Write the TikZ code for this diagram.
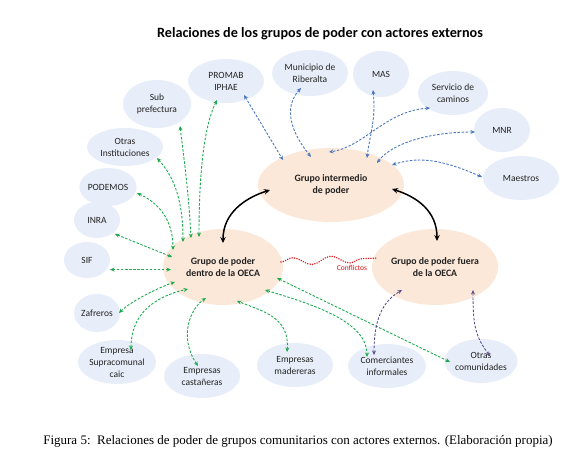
\documentclass[tikz,border=0pt]{standalone}
\usepackage{fontspec}
\setmainfont{Carlito}
\newfontfamily\capfont{Liberation Serif}
\usetikzlibrary{shapes.geometric,arrows.meta,decorations.pathmorphing,calc}
\definecolor{bfill}{HTML}{E8EEF9}
\definecolor{pfill}{HTML}{FCE8D8}
\definecolor{garr}{HTML}{1DAA4E}
\definecolor{barr}{HTML}{4A78C0}
\definecolor{parr}{HTML}{5E4E8C}
\definecolor{rdot}{HTML}{E01010}
\definecolor{txt}{HTML}{222222}
\begin{document}
\begin{tikzpicture}[x=1pt,y=-1pt,
  bub/.style={ellipse, fill=bfill, inner sep=0pt, align=center, text=txt,
    font=\fontsize{9.5}{12}\selectfont},
  grp/.style={ellipse, fill=pfill, inner sep=0pt, align=center, text=txt,
    font=\fontsize{9.8}{12.5}\selectfont\bfseries},
  dsh/.style={line width=0.9pt, dash pattern=on 2.5pt off 1.6pt,
    {Stealth[length=4.5pt,width=4pt]}-{Stealth[length=4.5pt,width=4pt]}},
  garrow/.style={dsh, draw=garr},
  barrow/.style={dsh, draw=barr},
  parrow/.style={dsh, draw=parr},
  karrow/.style={line width=1.5pt, draw=black,
    {Stealth[length=6pt,width=5.5pt]}-{Stealth[length=6pt,width=5.5pt]}},
  conflict/.style={draw=rdot, line width=1.6pt, line cap=round,
    dash pattern=on 0.01pt off 2.4pt, decorate,
    decoration={snake, amplitude=3.8pt, segment length=38pt}},
]
\useasboundingbox (0,0) rectangle (580,466);
\fill[white] (0,0) rectangle (580,466);

% title
\node[font=\fontsize{14.2}{16}\selectfont\bfseries, text=black] (title) at (320,34)
  {Relaciones de los grupos de poder con actores externos};

% external actors
\node[bub, minimum width=76pt, minimum height=44pt] (promab) at (226,81) {PROMAB\\IPHAE};
\node[bub, minimum width=76pt, minimum height=46pt] (muni) at (310,73) {Municipio de\\Riberalta};
\node[bub, minimum width=56pt, minimum height=46pt] (mas) at (381,74) {MAS};
\node[bub, minimum width=70pt, minimum height=44pt] (serv) at (453,93) {Servicio de\\caminos};
\node[bub, minimum width=56pt, minimum height=44pt] (mnr) at (502,130) {MNR};
\node[bub, minimum width=76pt, minimum height=44pt] (maes) at (521,178) {Maestros};
\node[bub, minimum width=68pt, minimum height=48pt] (sub) at (157,104) {Sub\\prefectura};
\node[bub, minimum width=76pt, minimum height=38pt] (otras) at (125,147) {Otras\\Instituciones};
\node[bub, minimum width=52pt, minimum height=38pt] (podemos) at (108,187) {PODEMOS};
\node[bub, minimum width=46pt, minimum height=36pt] (inra) at (97,220) {INRA};
\node[bub, minimum width=46pt, minimum height=36pt] (sif) at (87,260) {SIF};
\node[bub, minimum width=46pt, minimum height=38pt] (zaf) at (97,313) {Zafreros};
\node[bub, minimum width=76pt, minimum height=44pt] (supra) at (117,362) {Empresa\\Supracomunal\\caic};
\node[bub, minimum width=76pt, minimum height=44pt] (cast) at (202,376) {Empresas\\castañeras};
\node[bub, minimum width=76pt, minimum height=44pt] (mad) at (295,365) {Empresas\\madereras};
\node[bub, minimum width=78pt, minimum height=44pt] (com) at (387,366) {Comerciantes\\informales};
\node[bub, minimum width=72pt, minimum height=44pt] (otrc) at (481,361) {Otras\\comunidades};

% power groups
\node[grp, minimum width=120pt, minimum height=76pt] (dentro) at (223,267) {Grupo de poder\\dentro de la OECA};
\node[grp, minimum width=146pt, minimum height=74pt] (inter) at (331,185) {Grupo intermedio\\de poder};
\node[grp, minimum width=126pt, minimum height=76pt] (fuera) at (435,267) {Grupo de poder fuera\\de la OECA};

% green: dentro de la OECA
\draw[garrow] ($(promab)+(-9,19)$) .. controls +(-15,30) and +(0,-50) .. ($(dentro)+(-24,-30)$);
\draw[garrow] ($(sub)+(23,22)$) .. controls +(5,40) and +(-2,-40) .. ($(dentro)+(-32,-29)$);
\draw[garrow] ($(otras)+(32,11)$) .. controls +(18,20) and +(0,-40) .. ($(dentro)+(-40,-25)$);
\draw[garrow] ($(podemos)+(29,6)$) .. controls +(22,10) and +(0,-30) .. ($(dentro)+(-50,-17)$);
\draw[garrow] ($(inra)+(18,14)$) -- ($(dentro)+(-51,-10)$);
\draw[garrow] ($(sif)+(23,9.6)$) -- ($(dentro)+(-52,2.6)$);
\draw[garrow] ($(zaf)+(22,0)$) .. controls +(12,-12) and +(-15,5) .. ($(dentro)+(-48,15)$);
\draw[garrow] ($(supra)+(14,-12)$) .. controls +(0,-35) and +(-35,8) .. ($(dentro)+(-35,22)$);
\draw[garrow] ($(cast)+(-4,-10)$) .. controls +(-20,-30) and +(-15,10) .. ($(dentro)+(-17,31)$);
\draw[garrow] ($(mad)+(-8,-13)$) .. controls +(3,-35) and +(25,10) .. ($(dentro)+(14,34)$);
\draw[garrow] ($(dentro)+(42,23)$) .. controls +(50,15) and +(0,-35) .. ($(com)+(-20,-9)$);
\draw[garrow] ($(dentro)+(54,11)$) -- ($(otrc)+(-31,1)$);

% blue: grupo intermedio
\draw[barrow] ($(promab)+(18,14)$) -- ($(inter)+(-48,-25)$);
\draw[barrow] ($(muni)+(-9,15)$) .. controls +(-18,20) and +(-20,-25) .. ($(inter)+(-20,-28)$);
\draw[barrow] ($(mas)+(-8,16)$) .. controls +(3,30) and +(3,-25) .. ($(inter)+(36,-27)$);
\draw[barrow] ($(serv)+(-23,15)$) .. controls +(-45,3) and +(35,-5) .. ($(inter)+(-2,-33)$);
\draw[barrow] ($(mnr)+(-27,2)$) .. controls +(-45,0) and +(15,-20) .. ($(inter)+(46,-22)$);
\draw[barrow] ($(maes)+(-39,-1)$) .. controls +(-35,-15) and +(30,-10) .. ($(inter)+(61,-20)$);

% purple: fuera de la OECA
\draw[parrow] ($(com)+(-13,-11)$) .. controls +(0,-35) and +(-20,12) .. ($(fuera)+(-33,23)$);
\draw[parrow] ($(otrc)+(9,-5)$) .. controls +(-15,-20) and +(0,35) .. ($(fuera)+(38,23)$);

% black: between groups
\draw[karrow] ($(dentro)+(0,-24)$) .. controls +(0,-30) and +(-25,8) .. ($(inter)+(-61,5)$);
\draw[karrow] ($(inter)+(61,4)$) .. controls +(25,8) and +(0,-30) .. ($(fuera)+(2,-26)$);

% conflict
\draw[conflict] ($(dentro)+(58,-5)$) -- ($(fuera)+(-57,-9)$);
\node[text=rdot, font=\fontsize{7.5}{9}\selectfont] (conf) at (352,268) {Conflictos};

% caption
\node[font=\capfont\fontsize{13}{15}\selectfont, text=black] (cap) at (298,441)
  {Figura 5:\ \ Relaciones de poder de grupos comunitarios con actores externos. (Elaboración propia)};
\end{tikzpicture}
\end{document}
